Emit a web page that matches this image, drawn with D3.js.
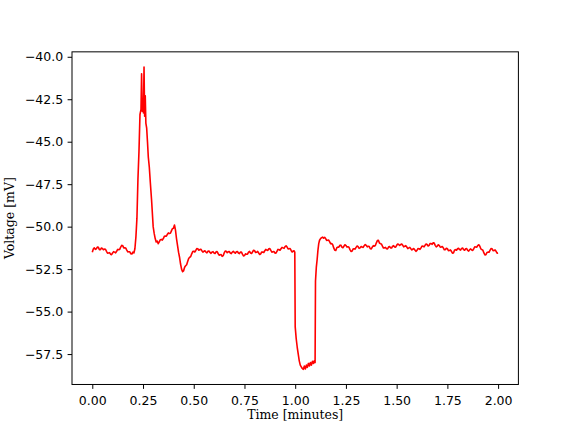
<!DOCTYPE html>
<html>
<head>
<meta charset="utf-8">
<script src="https://cdn.jsdelivr.net/npm/d3@7"></script>
<style>
  html, body { margin: 0; padding: 0; background: #fff; }
  svg { display: block; }
  .tick text { font-family: "DejaVu Sans", sans-serif; font-size: 12.5px; fill: #000; }
  .lbl { font-family: "DejaVu Serif", serif; font-size: 12.5px; fill: #000; }
</style>
</head>
<body>
<svg id="chart" width="576" height="432"></svg>
<script>
// ---- data ----
const timeMinutes = [
  // baseline before the spike
  0.000,0.005,0.010,0.015,0.020,0.025,0.030,0.035,0.040,0.045,
  0.050,0.055,0.060,0.065,0.070,0.075,0.080,0.085,0.090,0.095,
  0.100,0.105,0.110,0.115,0.120,0.125,0.130,0.135,0.140,0.145,
  0.150,0.155,0.160,0.165,0.170,0.175,0.180,0.185,0.190,0.195,
  0.200,0.205,
  // spike and after-hump
  0.21,0.215,0.22,0.225,0.23,0.235,0.24,0.243,0.246,0.249,
  0.252,0.255,0.258,0.261,0.264,0.268,0.272,0.276,0.281,0.286,
  0.292,0.296,0.30,0.305,0.31,0.315,0.32,0.325,0.33,0.335,
  0.34,0.345,0.35,0.355,0.36,0.365,0.37,0.375,0.38,0.385,
  0.39,0.395,0.40,0.405,0.41,0.415,0.42,0.425,0.43,0.435,
  0.44,0.445,
  // baseline between events
  0.450,0.455,0.460,0.465,0.470,0.475,0.480,0.485,0.490,0.495,
  0.500,0.505,0.510,0.515,0.520,0.525,0.530,0.535,0.540,0.545,
  0.550,0.555,0.560,0.565,0.570,0.575,0.580,0.585,0.590,0.595,
  0.600,0.605,0.610,0.615,0.620,0.625,0.630,0.635,0.640,0.645,
  0.650,0.655,0.660,0.665,0.670,0.675,0.680,0.685,0.690,0.695,
  0.700,0.705,0.710,0.715,0.720,0.725,0.730,0.735,0.740,0.745,
  0.750,0.755,0.760,0.765,0.770,0.775,0.780,0.785,0.790,0.795,
  0.800,0.805,0.810,0.815,0.820,0.825,0.830,0.835,0.840,0.845,
  0.850,0.855,0.860,0.865,0.870,0.875,0.880,0.885,0.890,0.895,
  0.900,0.905,0.910,0.915,0.920,0.925,0.930,0.935,0.940,0.945,
  0.950,0.955,0.960,0.965,0.970,0.975,0.980,0.985,0.990,0.994,
  0.998,
  // hyperpolarising step
  1.000,1.005,1.010,1.015,1.020,1.025,1.030,1.035,1.040,1.045,
  1.050,1.055,1.060,1.065,1.070,1.075,1.080,1.085,1.090,1.095,
  1.098,1.100,1.104,1.108,1.112,1.116,1.120,1.125,1.130,1.135,
  // baseline after
  1.140,1.145,1.150,1.155,1.160,1.165,1.170,1.175,1.180,1.185,
  1.190,1.195,1.200,1.205,1.210,1.215,1.220,1.225,1.230,1.235,
  1.240,1.245,1.250,1.255,1.260,1.265,1.270,1.275,1.280,1.285,
  1.290,1.295,1.300,1.305,1.310,1.315,1.320,1.325,1.330,1.335,
  1.340,1.345,1.350,1.355,1.360,1.365,1.370,1.375,1.380,1.385,
  1.390,1.395,1.400,1.405,1.410,1.415,1.420,1.425,1.430,1.435,
  1.440,1.445,1.450,1.455,1.460,1.465,1.470,1.475,1.480,1.485,
  1.490,1.495,1.500,1.505,1.510,1.515,1.520,1.525,1.530,1.535,
  1.540,1.545,1.550,1.555,1.560,1.565,1.570,1.575,1.580,1.585,
  1.590,1.595,1.600,1.605,1.610,1.615,1.620,1.625,1.630,1.635,
  1.640,1.645,1.650,1.655,1.660,1.665,1.670,1.675,1.680,1.685,
  1.690,1.695,1.700,1.705,1.710,1.715,1.720,1.725,1.730,1.735,
  1.740,1.745,1.750,1.755,1.760,1.765,1.770,1.775,1.780,1.785,
  1.790,1.795,1.800,1.805,1.810,1.815,1.820,1.825,1.830,1.835,
  1.840,1.845,1.850,1.855,1.860,1.865,1.870,1.875,1.880,1.885,
  1.890,1.895,1.900,1.905,1.910,1.915,1.920,1.925,1.930,1.935,
  1.940,1.945,1.950,1.955,1.960,1.965,1.970,1.975,1.980,1.985,
  1.990,1.995,2.000
];
const voltageMV = [
  // baseline before the spike
  -51.50,-51.32,-51.25,-51.34,-51.30,-51.20,-51.22,-51.35,-51.35,-51.26,
  -51.28,-51.36,-51.32,-51.33,-51.45,-51.56,-51.55,-51.53,-51.62,-51.65,
  -51.55,-51.47,-51.50,-51.54,-51.45,-51.34,-51.35,-51.34,-51.20,-51.10,
  -51.12,-51.25,-51.25,-51.26,-51.38,-51.49,-51.48,-51.48,-51.60,-51.61,
  -51.50,-51.55,
  // spike and after-hump
  -51.30,-50.60,-49.50,-47.20,-45.60,-43.40,-43.10,-41.00,-43.20,-42.80,
  -43.30,-40.60,-43.50,-42.30,-43.90,-44.20,-45.00,-45.90,-46.50,-47.40,
  -48.40,-49.20,-50.00,-50.40,-50.70,-50.90,-50.85,-51.00,-50.90,-50.77,
  -50.75,-50.79,-50.70,-50.57,-50.55,-50.56,-50.45,-50.37,-50.40,-50.39,
  -50.25,-50.12,-50.10,-49.90,-50.20,-50.70,-51.10,-51.50,-51.80,-52.20,
  -52.50,-52.65,
  // baseline between events
  -52.60,-52.39,-52.30,-52.24,-52.05,-51.87,-51.80,-51.76,-51.60,-51.47,
  -51.45,-51.49,-51.40,-51.29,-51.30,-51.39,-51.35,-51.33,-51.42,-51.50,
  -51.45,-51.42,-51.50,-51.54,-51.45,-51.43,-51.52,-51.57,-51.50,-51.47,
  -51.55,-51.58,-51.48,-51.47,-51.58,-51.68,-51.65,-51.64,-51.75,-51.71,
  -51.55,-51.44,-51.45,-51.53,-51.48,-51.46,-51.55,-51.59,-51.50,-51.45,
  -51.52,-51.56,-51.48,-51.46,-51.55,-51.59,-51.50,-51.50,-51.62,-51.72,
  -51.70,-51.60,-51.62,-51.62,-51.50,-51.46,-51.55,-51.58,-51.48,-51.39,
  -51.42,-51.52,-51.50,-51.46,-51.55,-51.64,-51.60,-51.49,-51.50,-51.52,
  -51.42,-51.34,-51.38,-51.40,-51.30,-51.29,-51.40,-51.50,-51.48,-51.46,
  -51.55,-51.56,-51.45,-51.34,-51.35,-51.39,-51.30,-51.22,-51.25,-51.28,
  -51.18,-51.13,-51.20,-51.31,-51.30,-51.29,-51.40,-51.49,-51.45,-51.42,
  -51.50,
  // hyperpolarising step
  -55.90,-56.60,-57.10,-57.50,-57.90,-58.15,-58.25,-58.35,-58.40,-58.20,
  -58.38,-58.15,-58.28,-58.05,-58.20,-58.00,-58.15,-57.92,-58.05,-57.88,
  -58.00,-53.20,-52.40,-51.95,-51.40,-51.00,-50.80,-50.70,-50.65,-50.62,
  // baseline after
  -50.68,-50.63,-50.70,-50.81,-50.80,-50.79,-50.90,-51.01,-51.00,-51.07,
  -51.25,-51.39,-51.40,-51.24,-51.20,-51.21,-51.10,-51.09,-51.20,-51.24,
  -51.15,-51.07,-51.10,-51.20,-51.18,-51.21,-51.35,-51.46,-51.45,-51.32,
  -51.30,-51.32,-51.22,-51.14,-51.18,-51.28,-51.25,-51.17,-51.20,-51.22,
  -51.12,-51.05,-51.10,-51.19,-51.15,-51.17,-51.30,-51.31,-51.20,-51.12,
  -51.15,-51.11,-50.95,-50.82,-50.80,-50.96,-51.00,-51.02,-51.15,-51.26,
  -51.25,-51.22,-51.30,-51.31,-51.20,-51.17,-51.25,-51.26,-51.15,-51.12,
  -51.20,-51.21,-51.10,-51.02,-51.05,-51.11,-51.05,-51.02,-51.10,-51.19,
  -51.15,-51.12,-51.20,-51.29,-51.25,-51.22,-51.30,-51.37,-51.32,-51.29,
  -51.38,-51.45,-51.40,-51.29,-51.30,-51.34,-51.25,-51.14,-51.15,-51.19,
  -51.10,-51.02,-51.05,-51.14,-51.10,-50.99,-51.00,-51.04,-50.95,-50.97,
  -51.10,-51.19,-51.15,-51.07,-51.10,-51.21,-51.20,-51.17,-51.25,-51.36,
  -51.35,-51.27,-51.30,-51.41,-51.40,-51.37,-51.45,-51.56,-51.55,-51.39,
  -51.35,-51.39,-51.30,-51.27,-51.35,-51.38,-51.28,-51.26,-51.35,-51.39,
  -51.30,-51.29,-51.40,-51.44,-51.35,-51.31,-51.38,-51.40,-51.30,-51.19,
  -51.20,-51.21,-51.10,-51.07,-51.15,-51.31,-51.35,-51.39,-51.55,-51.66,
  -51.65,-51.52,-51.50,-51.51,-51.40,-51.29,-51.30,-51.41,-51.40,-51.37,
  -51.45,-51.56,-51.55
];
const xTickValues = [0.00,0.25,0.50,0.75,1.00,1.25,1.50,1.75,2.00];
const yTickValues = [-57.5,-55.0,-52.5,-50.0,-47.5,-45.0,-42.5,-40.0];
const xLabel = "Time [minutes]";
const yLabel = "Voltage [mV]";

// ---- layout ----
const mLeft = 72, mRight = 518.4, mTop = 51.84, mBottom = 384.48;

const points = timeMinutes.map((t, i) => ({ t, v: voltageMV[i] }));

function padded(ext) {
  const d = (ext[1] - ext[0]) * 0.05;
  return [ext[0] - d, ext[1] + d];
}

const x = d3.scaleLinear().domain(padded(d3.extent(timeMinutes))).range([mLeft, mRight]);
const y = d3.scaleLinear().domain(padded(d3.extent(voltageMV))).range([mBottom, mTop]);

const svg = d3.select("#chart");

// trace
svg.append("path")
  .datum(points)
  .attr("fill", "none")
  .attr("stroke", "#ff0000")
  .attr("stroke-width", 1.6)
  .attr("stroke-linejoin", "round")
  .attr("d", d3.line().x(d => x(d.t)).y(d => y(d.v)));

// axes
const xAxis = d3.axisBottom(x).tickValues(xTickValues).tickFormat(d3.format(".2f"))
  .tickSizeInner(4.4).tickSizeOuter(0).tickPadding(4.4);
const yAxis = d3.axisLeft(y).tickValues(yTickValues).tickFormat(d3.format(".1f"))
  .tickSizeInner(4.4).tickSizeOuter(0).tickPadding(4.4);

const gx = svg.append("g").attr("transform", `translate(0,${mBottom})`).call(xAxis);
const gy = svg.append("g").attr("transform", `translate(${mLeft},0)`).call(yAxis);
[gx, gy].forEach(g => {
  g.select(".domain").remove();
  g.selectAll(".tick line").attr("stroke", "#000").attr("stroke-width", 1);
  g.selectAll(".tick text").attr("font-family", null).attr("font-size", null);
});
gx.selectAll(".tick text").attr("dy", "0.9em");

// frame
svg.append("rect")
  .attr("x", mLeft).attr("y", mTop)
  .attr("width", mRight - mLeft).attr("height", mBottom - mTop)
  .attr("fill", "none").attr("stroke", "#000").attr("stroke-width", 1);

// labels
svg.append("text").attr("class", "lbl")
  .attr("x", (mLeft + mRight) / 2).attr("y", 419)
  .attr("text-anchor", "middle").text(xLabel);
svg.append("text").attr("class", "lbl")
  .attr("transform", `translate(14,${(mTop + mBottom) / 2}) rotate(-90)`)
  .attr("text-anchor", "middle").text(yLabel);
</script>
</body>
</html>
